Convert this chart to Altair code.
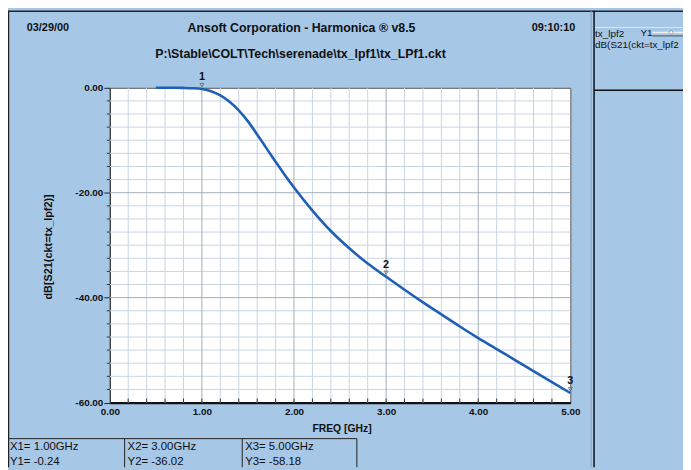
import altair as alt
import numpy as np
import pandas as pd

# ---- data ----
freq = [0.5, 0.6, 0.7, 0.8, 0.9, 1.0, 1.1, 1.2, 1.3, 1.4, 1.5, 1.6, 1.7, 1.8, 1.9, 2.0,
        2.2, 2.4, 2.6, 2.8, 3.0, 3.2, 3.4, 3.6, 3.8, 4.0, 4.2, 4.4, 4.6, 4.8, 5.0]
db_s21 = [0.0, 0.0, 0.0, -0.02, -0.08, -0.24, -0.65, -1.45, -2.65, -4.3, -6.4, -8.9, -11.5,
          -14.1, -16.6, -19.0, -23.4, -27.3, -30.6, -33.5, -36.02, -38.5, -40.9, -43.2,
          -45.5, -47.7, -49.8, -51.9, -54.0, -56.1, -58.18]
marker_names = ["1", "2", "3"]
marker_freq = [1.0, 3.0, 5.0]
marker_db = [-0.24, -36.02, -58.18]
x_ticks = [0, 1, 2, 3, 4, 5]
y_ticks = [0, -20, -40, -60]

title_text = "Ansoft Corporation - Harmonica \u00ae v8.5"
subtitle_text = "P:\\Stable\\COLT\\Tech\\serenade\\tx_lpf1\\tx_LPf1.ckt"
date_text = "03/29/00"
time_text = "09:10:10"
x_title = "FREQ [GHz]"
y_title = "dB[S21(ckt=tx_lpf2)]"
legend_name = "tx_lpf2"
legend_series = "Y1"
legend_expr = "dB(S21(ckt=tx_lpf2"

# ---- styles ----
BG = "#a7c7e7"
FONT = "Liberation Sans"
W, H = 466, 318.5

curve = pd.DataFrame({"freq": freq, "db": db_s21})
markers = pd.DataFrame({"freq": marker_freq, "db": marker_db, "name": marker_names})
dummy = pd.DataFrame({"a": [0]})

xs = alt.Scale(domain=[0, 5], nice=False, zero=False)
ys = alt.Scale(domain=[-60, 0], nice=False, zero=False)

AX = alt.Axis(values=x_ticks, format=".2f", title=None, grid=False, tickSize=0,
              labelPadding=4, labelFlush=False, domainColor="#111111", domainWidth=2.2)
AY = alt.Axis(values=y_ticks, title=None, grid=False, tickSize=6, tickColor="#222222",
              labelPadding=1, labelFlush=False, domainColor="#333333", domainWidth=1,
              labelExpr="(datum.value < 0 ? '-' : '') + format(abs(datum.value), '.2f')")

minor_x = pd.DataFrame({"v": [round(v, 1) for v in np.arange(0.2, 5.0, 0.2) if abs(v - round(v)) > 1e-6]})
major_x = pd.DataFrame({"v": [1, 2, 3, 4]})
all_x = pd.DataFrame({"v": [round(v, 1) for v in np.arange(0.2, 5.0, 0.2)]})
minor_y = pd.DataFrame({"v": [v for v in np.arange(-57.5, 0, 2.5) if abs(v % 20) > 1e-6]})
major_y = pd.DataFrame({"v": [-20, -40]})

layers = []

# grid
layers.append(alt.Chart(minor_x).mark_rule(color="#c9d5e2", strokeWidth=1).encode(
    x=alt.X("v:Q", scale=xs, axis=AX)))
layers.append(alt.Chart(minor_y).mark_rule(color="#c9d5e2", strokeWidth=1).encode(
    y=alt.Y("v:Q", scale=ys, axis=AY)))
layers.append(alt.Chart(major_x).mark_rule(color="#a3adb8", strokeWidth=1).encode(
    x=alt.X("v:Q", scale=xs, axis=AX)))
layers.append(alt.Chart(major_y).mark_rule(color="#a3adb8", strokeWidth=1).encode(
    y=alt.Y("v:Q", scale=ys, axis=AY)))

# inner x ticks at bottom
layers.append(alt.Chart(all_x).mark_rule(color="#333333", strokeWidth=1).encode(
    x=alt.X("v:Q", scale=xs, axis=AX), y=alt.value(H), y2=alt.value(H - 4)))
# minor y ticks outside left
layers.append(alt.Chart(minor_y).mark_rule(color="#333333", strokeWidth=1).encode(
    y=alt.Y("v:Q", scale=ys, axis=AY), x=alt.value(-3), x2=alt.value(0)))

# main curve
layers.append(alt.Chart(curve).mark_line(color="#1f5fb5", strokeWidth=2.6, interpolate="monotone").encode(
    x=alt.X("freq:Q", scale=xs, axis=AX),
    y=alt.Y("db:Q", scale=ys, axis=AY)))

# marker triangles and numbers
layers.append(alt.Chart(markers).mark_point(shape="triangle-down", filled=False, size=16,
                                            color="#555555", strokeWidth=1, yOffset=-4).encode(
    x=alt.X("freq:Q", scale=xs, axis=AX), y=alt.Y("db:Q", scale=ys, axis=AY)))
layers.append(alt.Chart(markers).mark_text(font=FONT, fontWeight="bold", fontSize=11,
                                           color="#111111", dy=-12).encode(
    x=alt.X("freq:Q", scale=xs, axis=AX), y=alt.Y("db:Q", scale=ys, axis=AY), text="name:N"))


def txt(s, x, y, size=11, bold=True, align="center", angle=0, color="#111111"):
    kw = dict(font=FONT, fontSize=size, fontWeight="bold" if bold else "normal",
              align=align, baseline="middle", color=color)
    if angle:
        kw["angle"] = angle
    return alt.Chart(dummy).mark_text(**kw).encode(
        x=alt.value(x), y=alt.value(y), text=alt.value(s))


def hline(x1, x2, y, color="#111111", w=1):
    return alt.Chart(dummy).mark_rule(color=color, strokeWidth=w).encode(
        x=alt.value(x1), x2=alt.value(x2), y=alt.value(y))


def vline(x, y1, y2, color="#111111", w=1):
    return alt.Chart(dummy).mark_rule(color=color, strokeWidth=w).encode(
        x=alt.value(x), y=alt.value(y1), y2=alt.value(y2))


# header texts (plot coords: page x - 111, page y - 86)
layers.append(txt(date_text, -84, -60, size=11, align="left"))
layers.append(txt(title_text, 194, -60, size=12.5))
layers.append(txt(time_text, 471, -60, size=11, align="right"))
layers.append(txt(subtitle_text, 193, -34, size=12.5))

# axis titles
layers.append(txt(x_title, 235, 345, size=10.5))
layers.append(txt(y_title, -61, 161, size=11, angle=270))

# frame borders
layers.append(hline(-103, 580, -77.5, "#222222", 1.5))
layers.append(vline(-102.5, -78, 384, "#222222", 1.5))
layers.append(vline(487, -78, 384, "#8a9fb5", 1))
layers.append(vline(490, -78, 384, "#111111", 1.5))
layers.append(hline(490, 580, 2.5, "#111111", 1.5))

# right legend panel
layers.append(hline(491, 580, -61, "#dde6f0", 1))
layers.append(txt(legend_name, 491, -54, size=10, bold=False, align="left"))
layers.append(txt(legend_series, 537, -55, size=10, bold=False, align="left"))
layers.append(hline(549, 580, -56, "#f4eeee", 1.5))
layers.append(hline(549, 580, -52.5, "#3d5a4a", 1))
layers.append(alt.Chart(dummy).mark_point(shape="diamond", filled=True, fill="#f4eeee",
                                          stroke="#8a8a8a", size=22, strokeWidth=1).encode(
    x=alt.value(568), y=alt.value(-56)))
layers.append(txt(legend_expr, 491, -43, size=10, bold=False, align="left"))

# marker table at bottom
layers.append(hline(-103, 250, 355, "#222222", 1))
for xv in [15, 134, 250]:
    layers.append(vline(xv, 355, 384, "#222222", 1))
cols = [-101, 18, 137]
for i in range(3):
    layers.append(txt(f"X{i + 1}= {marker_freq[i]:.2f}GHz", cols[i], 364, size=11.5, bold=False,
                      align="left"))
    layers.append(txt(f"Y{i + 1}= {marker_db[i]:.2f}", cols[i], 379, size=11.5, bold=False,
                      align="left"))

chart = alt.layer(*layers).properties(
    width=W, height=H,
    padding={"left": 103, "top": 78, "right": 114, "bottom": 65.5},
    autosize=alt.AutoSizeParams(type="none"),
    background=BG,
).configure_view(fill="white", stroke="#555555", strokeWidth=1).configure_axis(
    labelFont=FONT, labelFontWeight="bold", labelFontSize=10, labelColor="#111111"
)

chart.save("out.html", embed_options={"renderer": "svg", "actions": False})
